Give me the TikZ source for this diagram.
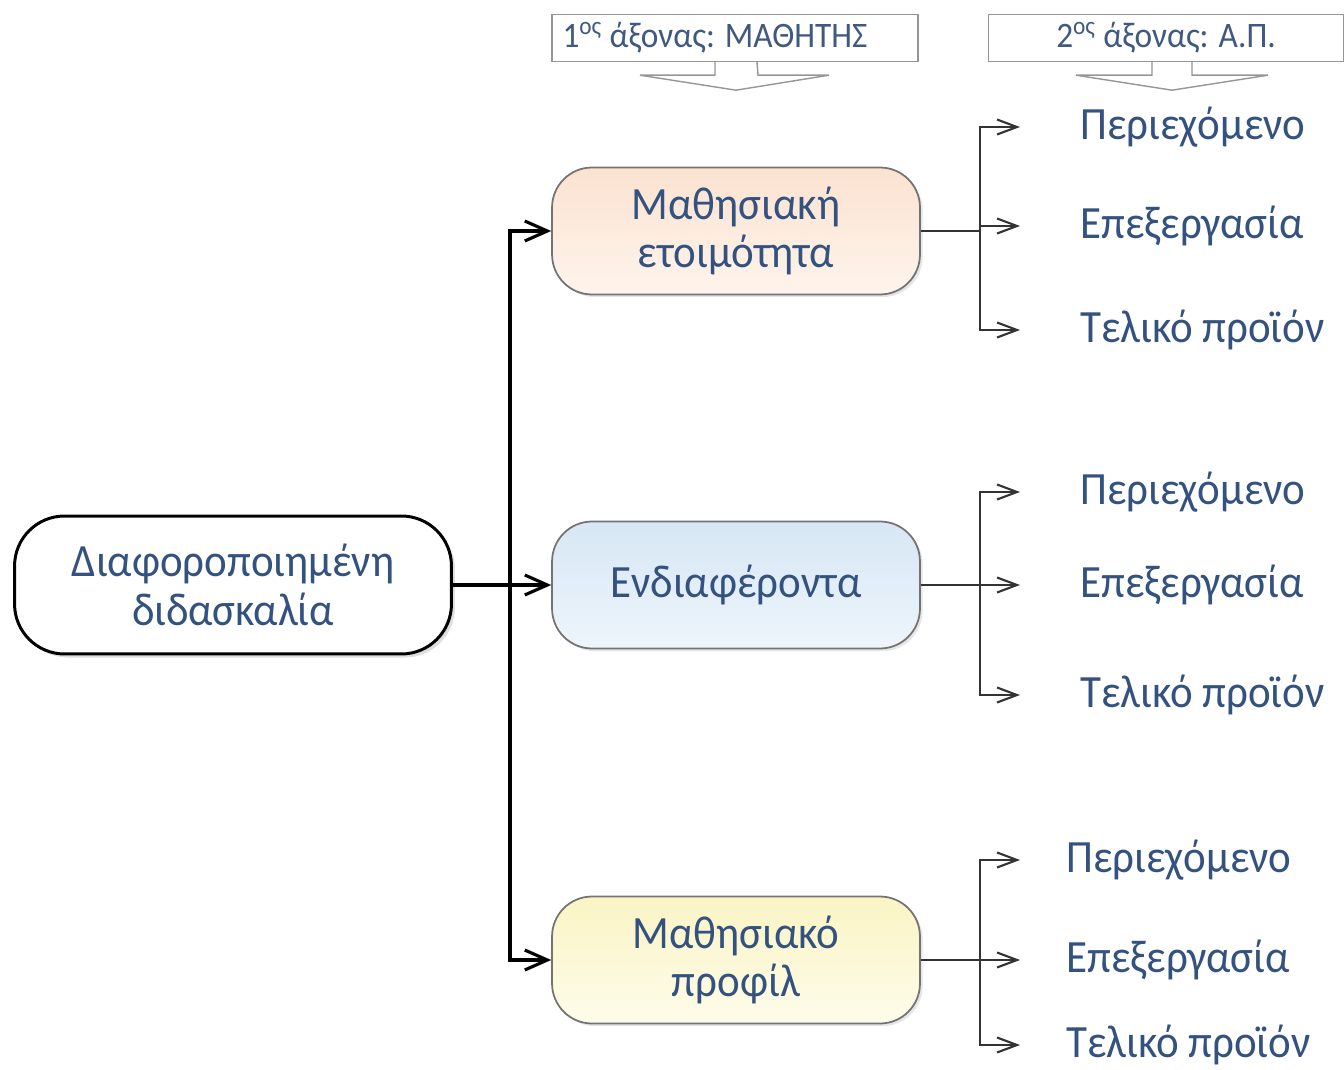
\documentclass[tikz,border=0pt]{standalone}
\usepackage{fontspec}
\setmainfont{Carlito}[FakeStretch=0.93]
\usetikzlibrary{arrows.meta,positioning,shadows,calc}
\definecolor{txtblue}{RGB}{52,82,128}
\definecolor{calloutgray}{RGB}{150,150,150}
\definecolor{readytop}{RGB}{251,226,208}
\definecolor{readybot}{RGB}{254,244,236}
\definecolor{interesttop}{RGB}{214,231,245}
\definecolor{interestbot}{RGB}{238,245,251}
\definecolor{profiletop}{RGB}{250,244,196}
\definecolor{profilebot}{RGB}{254,252,234}
\tikzset{
  rootbox/.style={
    rounded corners=1cm, draw=black, line width=1.7pt, fill=white,
    drop shadow={opacity=0.25, shadow xshift=2pt, shadow yshift=-2pt},
    align=center, minimum width=8.74cm, minimum height=2.76cm,
    text=txtblue, font=\fontsize{26.3}{27.5}\selectfont
  },
  stagebox/.style={
    rounded corners=0.8cm, draw=black!55, line width=1pt,
    drop shadow={opacity=0.2, shadow xshift=1.5pt, shadow yshift=-1.5pt},
    align=center, minimum width=7.36cm, minimum height=2.54cm,
    text=txtblue, font=\fontsize{26.3}{27.5}\selectfont
  },
  item/.style={anchor=west, inner sep=0pt, text=txtblue,
    font=\fontsize{26.3}{28}\selectfont},
  axisbox/.style={draw=calloutgray, line width=0.8pt, fill=white,
    minimum height=0.94cm, text=txtblue!85!gray,
    font=\fontsize{20.4}{22}\selectfont},
  callarrow/.style={draw=calloutgray, line width=0.8pt, fill=white},
  flow/.style={draw=black, line width=1.8pt},
  arw/.style={flow, -{Straight Barb[length=4.5mm,width=4mm]}},
  side/.style={draw=black!80, line width=1.2pt},
  sarw/.style={side, -{Straight Barb[length=4mm,width=3mm]}}
}
\begin{document}
\begin{tikzpicture}[x=0.02cm, y=-0.02cm]
    \useasboundingbox (0,0) rectangle (1344,1070);

    % Axis callouts on top.
    \node[axisbox, minimum width=7.32cm, text width=6.9cm, align=flush left]
      (axis1) at (735,38) {1\textsuperscript{ος} άξονας: ΜΑΘΗΤΗΣ};
    \draw[callarrow] ($(axis1.south)+(-20,0)$) -- ++(0,13) -- ++(-75,0)
      -- ($(axis1.south)+(1,28)$) -- ++(93,-15) -- ++(-71,0)
      -- ($(axis1.south)+(22,0)$);
    \node[axisbox, minimum width=7.1cm] (axis2) at (1166,38)
      {2\textsuperscript{ος} άξονας: Α.Π.};
    \draw[callarrow] ($(axis2.south)+(-14,0)$) -- ++(0,13) -- ++(-76,0)
      -- ($(axis2.south)+(6,28)$) -- ++(96,-15) -- ++(-76,0)
      -- ($(axis2.south)+(26,0)$);

    % Root and the three learner stages.
    \node[rootbox] (root) at (233,585) {Διαφοροποιημένη\\διδασκαλία};
    \node[stagebox, top color=readytop, bottom color=readybot] (ready)
      at (736,231) {Μαθησιακή\\ετοιμότητα};
    \node[stagebox, top color=interesttop, bottom color=interestbot]
      (interest) at (736,585) {Ενδιαφέροντα};
    \node[stagebox, top color=profiletop, bottom color=profilebot]
      (profile) at (736,960) {Μαθησιακό\\προφίλ};

    % Curriculum items per stage.
    \node[item] (ready-c) at (1080,127) {Περιεχόμενο};
    \node[item] (ready-p) at (1080,226) {Επεξεργασία};
    \node[item] (ready-f) at (1080,330) {Τελικό προϊόν};
    \node[item] (interest-c) at (1080,492) {Περιεχόμενο};
    \node[item] (interest-p) at (1080,585) {Επεξεργασία};
    \node[item] (interest-f) at (1080,695) {Τελικό προϊόν};
    \node[item] (profile-c) at (1066,860) {Περιεχόμενο};
    \node[item] (profile-p) at (1066,960) {Επεξεργασία};
    \node[item] (profile-f) at (1066,1045) {Τελικό προϊόν};

    % Trunk from the root.
    \coordinate (trunk) at (510,585);
    \draw[flow] (root.east) -- (trunk);
    \draw[arw] (trunk) -- (interest.west);
    \draw[arw] (trunk) |- (ready.west);
    \draw[arw] (trunk) |- (profile.west);

    % Forks to the items.
    \coordinate (fork1) at (980,231);
    \draw[side] (ready.east) -- (fork1);
    \draw[sarw] (fork1) |- ([xshift=-1.2cm]ready-c.west);
    \draw[sarw] (fork1) |- ([xshift=-1.2cm]ready-p.west);
    \draw[sarw] (fork1) |- ([xshift=-1.2cm]ready-f.west);

    \coordinate (fork2) at (980,585);
    \draw[side] (interest.east) -- (fork2);
    \draw[sarw] (fork2) |- ([xshift=-1.2cm]interest-c.west);
    \draw[sarw] (fork2) |- ([xshift=-1.2cm]interest-p.west);
    \draw[sarw] (fork2) |- ([xshift=-1.2cm]interest-f.west);

    \coordinate (fork3) at (980,960);
    \draw[side] (profile.east) -- (fork3);
    \draw[sarw] (fork3) |- ([xshift=-0.92cm]profile-c.west);
    \draw[sarw] (fork3) |- ([xshift=-0.92cm]profile-p.west);
    \draw[sarw] (fork3) |- ([xshift=-0.92cm]profile-f.west);
  \end{tikzpicture}
\end{document}
